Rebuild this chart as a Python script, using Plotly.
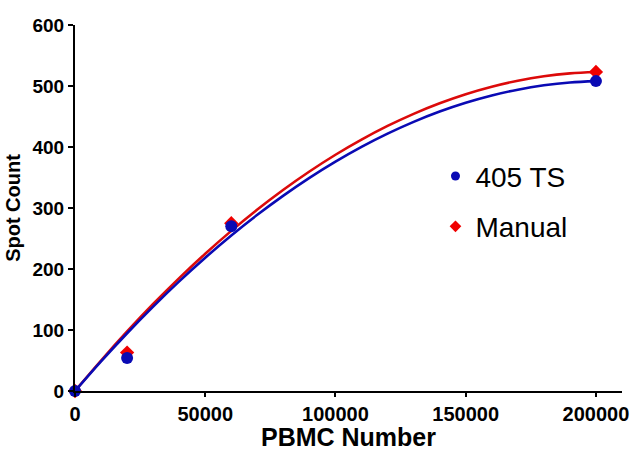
import plotly.graph_objects as go

# Measured data points
pbmc = [0, 20000, 60000, 200000]
ts405 = [0, 54, 270, 508]
manual = [0, 63, 275, 523]

# Fitted curves at 10000 steps
curve_x = [0, 10000, 20000, 30000, 40000, 50000, 60000, 70000, 80000, 90000, 100000,
           110000, 120000, 130000, 140000, 150000, 160000, 170000, 180000, 190000, 200000]
curve_ts405 = [0, 48.6, 94.7, 138.4, 179.7, 218.5, 254.9, 288.8, 320.3, 349.4, 376,
               400.2, 421.9, 441.2, 458.1, 472.5, 484.5, 494, 501.1, 505.8, 508]
curve_manual = [0, 50.0, 97.6, 142.6, 185.1, 225.1, 262.5, 297.5, 329.9, 359.8, 387.3,
                412.1, 434.5, 454.4, 471.7, 486.6, 498.9, 508.7, 516, 520.7, 523]

x_ticks = [0, 50000, 100000, 150000, 200000]
y_ticks = [0, 100, 200, 300, 400, 500, 600]

BLUE = "#0A0AB4"
RED = "#DC0A0A"
RED_M = "#F00000"
FONT = "Liberation Sans, Arial, sans-serif"

fig = go.Figure()
fig.add_trace(go.Scatter(x=curve_x, y=curve_manual, mode="lines", line=dict(color=RED, width=2.6, shape="spline"),
                         showlegend=False, hoverinfo="skip"))
fig.add_trace(go.Scatter(x=curve_x, y=curve_ts405, mode="lines", line=dict(color=BLUE, width=2.6, shape="spline"),
                         showlegend=False, hoverinfo="skip"))
fig.add_trace(go.Scatter(x=pbmc, y=manual, mode="markers", name="Manual",
                         marker=dict(symbol="diamond", size=11, color=RED_M), cliponaxis=False, showlegend=False))
fig.add_trace(go.Scatter(x=pbmc, y=ts405, mode="markers", name="405 TS",
                         marker=dict(symbol="circle", size=12, color=BLUE), cliponaxis=False, showlegend=False))
# legend entries
fig.add_trace(go.Scatter(x=[None], y=[None], mode="markers", name="405 TS", legendgroup="a",
                         marker=dict(symbol="circle", size=9, color=BLUE)))
fig.add_trace(go.Scatter(x=[None], y=[None], mode="markers", name="Manual", legendgroup="b",
                         marker=dict(symbol="diamond", size=9, color=RED_M)))

fig.update_layout(
    width=633, height=451,
    margin=dict(l=75, r=11, t=25, b=60),
    plot_bgcolor="white", paper_bgcolor="white",
    font=dict(family=FONT, color="black"),
    legend=dict(x=0.659, y=0.655, xanchor="left", yanchor="top", font=dict(size=28),
                traceorder="grouped", tracegroupgap=11, bgcolor="rgba(0,0,0,0)"),
    xaxis=dict(range=[0, 210000], tickvals=x_ticks, ticktext=[str(v) for v in x_ticks],
               automargin=False,
               showgrid=False, zeroline=False, showline=True, linecolor="black", linewidth=2,
               ticks="outside", ticklen=4, tickwidth=2, tickcolor="black",
               tickfont=dict(size=20, family=FONT, weight="bold"),
               title=dict(text="<b>PBMC Number</b>", font=dict(size=25), standoff=11)),
    yaxis=dict(range=[0, 600], tickvals=y_ticks, automargin=False,
               showgrid=False, zeroline=False, showline=True, linecolor="black", linewidth=2,
               ticks="outside", ticklen=5, tickwidth=2, tickcolor="black",
               tickfont=dict(size=19, family=FONT, weight="bold"),
               title=dict(text="<b>Spot Count</b>", font=dict(size=20), standoff=6)),
)

fig.write_html("out.html", config={"displayModeBar": False},
               post_script="document.body.style.margin='0';document.body.style.overflow='hidden';")
